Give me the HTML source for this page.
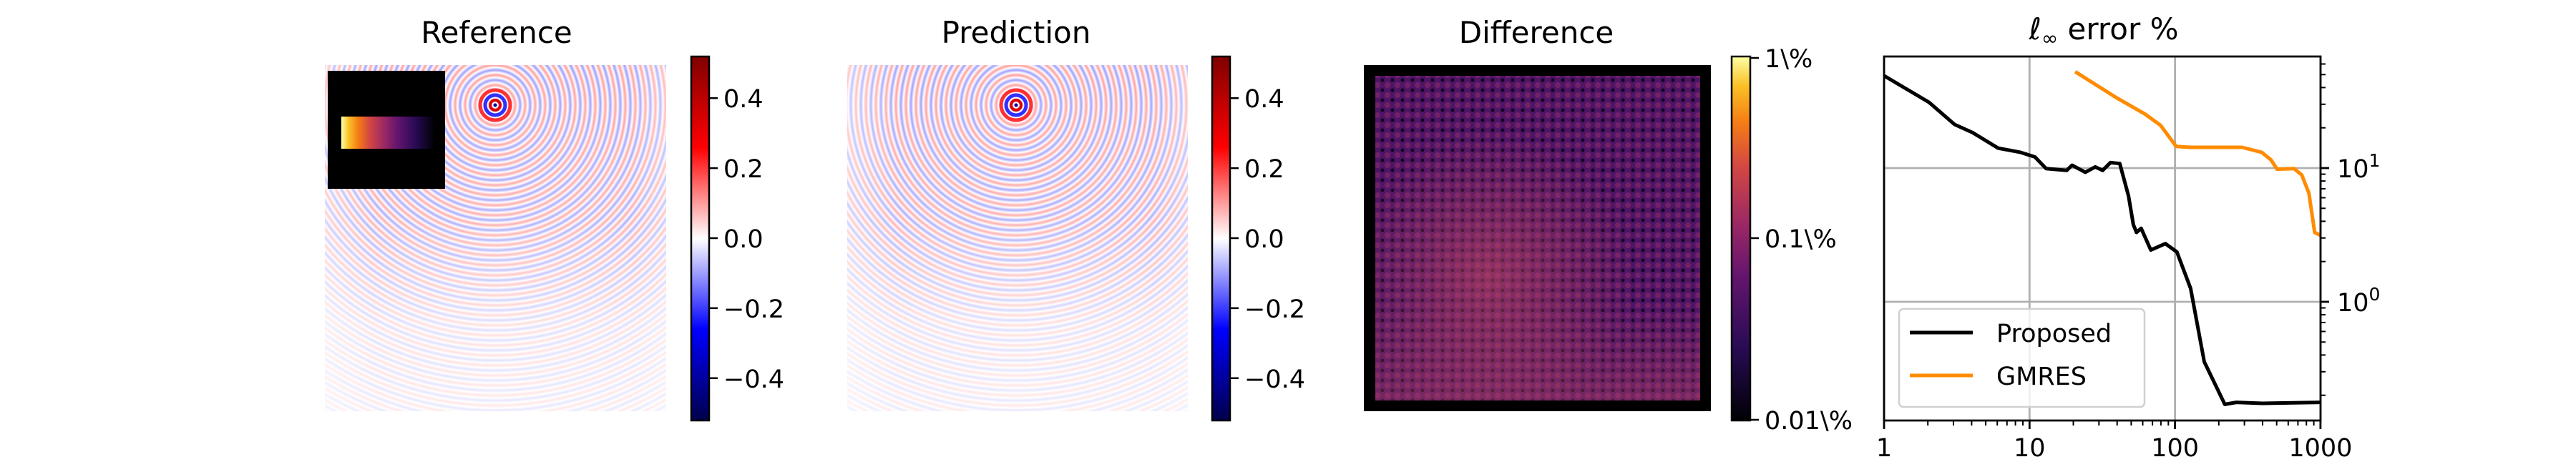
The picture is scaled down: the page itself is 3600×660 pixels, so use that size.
<!DOCTYPE html>
<html><head><meta charset="utf-8"><style>
html,body{margin:0;padding:0;background:#fff;width:3600px;height:660px;overflow:hidden}
svg{display:block;font-family:"DejaVu Sans","Liberation Sans",sans-serif}
</style></head><body>
<svg id="fig" width="3600" height="660" viewBox="0 0 3600 660">
<defs>
<linearGradient id="seis" x1="0" y1="1" x2="0" y2="0">
<stop offset="0" stop-color="#00004c"/><stop offset="0.25" stop-color="#0000ff"/>
<stop offset="0.5" stop-color="#ffffff"/><stop offset="0.75" stop-color="#ff0000"/>
<stop offset="1" stop-color="#800000"/></linearGradient>
<linearGradient id="inf" x1="0" y1="1" x2="0" y2="0">
<stop offset="0" stop-color="#000004"/><stop offset="0.2" stop-color="#280b54"/>
<stop offset="0.4" stop-color="#65156e"/><stop offset="0.55" stop-color="#9f2a63"/>
<stop offset="0.7" stop-color="#d44842"/><stop offset="0.82" stop-color="#f57d15"/>
<stop offset="0.92" stop-color="#fac127"/><stop offset="1" stop-color="#fcffa4"/></linearGradient>
<linearGradient id="infh" x1="1" y1="0" x2="0" y2="0">
<stop offset="0" stop-color="#000004"/><stop offset="0.2" stop-color="#280b54"/>
<stop offset="0.4" stop-color="#65156e"/><stop offset="0.55" stop-color="#9f2a63"/>
<stop offset="0.7" stop-color="#d44842"/><stop offset="0.82" stop-color="#f57d15"/>
<stop offset="0.92" stop-color="#fac127"/><stop offset="1" stop-color="#fcffa4"/></linearGradient>
<radialGradient id="ringsA" gradientUnits="userSpaceOnUse" cx="692" cy="147" r="14" spreadMethod="repeat">
<stop offset="0" stop-color="#ff6a6a"/><stop offset="0.25" stop-color="#ffffff"/>
<stop offset="0.5" stop-color="#6a6aff"/><stop offset="0.75" stop-color="#ffffff"/><stop offset="1" stop-color="#ff6a6a"/></radialGradient>
<radialGradient id="ringsB" gradientUnits="userSpaceOnUse" cx="1420" cy="147" r="14" spreadMethod="repeat">
<stop offset="0" stop-color="#ff6a6a"/><stop offset="0.25" stop-color="#ffffff"/>
<stop offset="0.5" stop-color="#6a6aff"/><stop offset="0.75" stop-color="#ffffff"/><stop offset="1" stop-color="#ff6a6a"/></radialGradient>
<linearGradient id="fade" x1="0" y1="0" x2="0" y2="1">
<stop offset="0" stop-color="#fff" stop-opacity="0.35"/><stop offset="0.45" stop-color="#fff" stop-opacity="0.45"/>
<stop offset="0.75" stop-color="#fff" stop-opacity="0.78"/><stop offset="1" stop-color="#fff" stop-opacity="0.85"/></linearGradient>
<linearGradient id="fadeL" x1="0" y1="0" x2="1" y2="0">
<stop offset="0" stop-color="#fff" stop-opacity="0.4"/><stop offset="0.15" stop-color="#fff" stop-opacity="0"/>
<stop offset="0.9" stop-color="#fff" stop-opacity="0"/><stop offset="1" stop-color="#fff" stop-opacity="0.3"/></linearGradient>
<radialGradient id="diffHot" cx="0.35" cy="0.62" r="0.45">
<stop offset="0" stop-color="#d05060" stop-opacity="0.5"/><stop offset="1" stop-color="#d05060" stop-opacity="0"/></radialGradient>
<linearGradient id="diffBot" x1="0" y1="0" x2="0" y2="1">
<stop offset="0" stop-color="#c04a60" stop-opacity="0"/><stop offset="0.7" stop-color="#c04a60" stop-opacity="0"/>
<stop offset="1" stop-color="#c04a60" stop-opacity="0.35"/></linearGradient>
<pattern id="noise" width="14" height="14" patternUnits="userSpaceOnUse">
<rect width="14" height="14" fill="#4e1466"/><circle cx="7" cy="7" r="4" fill="#7c2468" opacity="0.8"/>
<circle cx="0" cy="0" r="2.5" fill="#12041f"/><circle cx="14" cy="14" r="2.5" fill="#12041f"/>
<circle cx="0" cy="14" r="2.5" fill="#12041f"/><circle cx="14" cy="0" r="2.5" fill="#12041f"/></pattern>
</defs>

<!-- Reference panel -->
<text x="694" y="60" font-size="42" text-anchor="middle">Reference</text>
<g>
<rect x="454" y="91" width="477" height="484" fill="url(#ringsA)"/>
<rect x="454" y="91" width="477" height="484" fill="url(#fade)"/>
<rect x="454" y="91" width="477" height="484" fill="url(#fadeL)"/>
<circle cx="692" cy="147" r="21" fill="none" stroke="#ff3030" stroke-width="5"/>
<circle cx="692" cy="147" r="14" fill="none" stroke="#3030ff" stroke-width="5"/>
<circle cx="692" cy="147" r="7" fill="none" stroke="#e00000" stroke-width="4"/>
<circle cx="692" cy="147" r="2.5" fill="#0000a0"/>
</g>
<g>
<rect x="458" y="99" width="164" height="165" fill="#000"/>
<rect x="477" y="163" width="130" height="45" fill="url(#infh)"/>
</g>
<g>
<rect x="966" y="79" width="25" height="509" fill="url(#seis)" stroke="#000" stroke-width="2.5"/>
</g>
<g id="cb1ticks"></g>

<!-- Prediction panel -->
<text x="1420" y="60" font-size="42" text-anchor="middle">Prediction</text>
<g>
<rect x="1184" y="91" width="476" height="484" fill="url(#ringsB)"/>
<rect x="1184" y="91" width="476" height="484" fill="url(#fade)"/>
<rect x="1184" y="91" width="476" height="484" fill="url(#fadeL)"/>
<circle cx="1420" cy="147" r="21" fill="none" stroke="#ff3030" stroke-width="5"/>
<circle cx="1420" cy="147" r="14" fill="none" stroke="#3030ff" stroke-width="5"/>
<circle cx="1420" cy="147" r="7" fill="none" stroke="#e00000" stroke-width="4"/>
<circle cx="1420" cy="147" r="2.5" fill="#0000a0"/>
</g>
<g>
<rect x="1694" y="79" width="25" height="509" fill="url(#seis)" stroke="#000" stroke-width="2.5"/>
</g>
<g id="cb2ticks"></g>

<!-- Difference panel -->
<text x="2147" y="60" font-size="42" text-anchor="middle">Difference</text>
<g>
<rect x="1906" y="91" width="485" height="484" fill="#000"/>
<rect x="1922" y="106" width="454" height="454" fill="url(#noise)"/>
<rect x="1922" y="106" width="454" height="454" fill="url(#diffHot)"/>
<rect x="1922" y="106" width="454" height="454" fill="url(#diffBot)"/>
</g>
<g>
<rect x="2420" y="79" width="26" height="509" fill="url(#inf)" stroke="#000" stroke-width="2.5"/>
</g>
<g>
<line x1="2446" y1="81" x2="2458" y2="81" stroke="#000" stroke-width="2.5"/>
<line x1="2446" y1="333" x2="2458" y2="333" stroke="#000" stroke-width="2.5"/>
<line x1="2446" y1="587" x2="2458" y2="587" stroke="#000" stroke-width="2.5"/>
<text x="2466" y="94" font-size="35">1\%</text>
<text x="2466" y="346" font-size="35">0.1\%</text>
<text x="2466" y="600" font-size="35">0.01\%</text>
</g>

<!-- Error plot -->
<text x="2940" y="55" font-size="42" text-anchor="middle">ℓ<tspan font-size="28" dy="8">∞</tspan><tspan dy="-8"> error %</tspan></text>
<g id="errplot"></g>
</svg>
<script>
const cbTicks = [0.4, 0.2, 0.0, -0.2, -0.4];
const cbLabels = ["0.4", "0.2", "0.0", "\u22120.2", "\u22120.4"];
const propX = [1, 2.04, 3.05, 4.07, 6.08, 8.7, 10.9, 13, 18, 19.6, 24.2, 28.3, 31.8, 36, 41.7, 47.9, 51.7, 54.4, 58.5, 68.2, 85.9, 103, 128, 159, 220, 264, 398, 1000];
const propY = [49, 31, 21.2, 18.4, 14.1, 13.1, 12.1, 9.9, 9.6, 10.5, 9.3, 10.2, 9.6, 11, 10.8, 6.2, 3.77, 3.3, 3.54, 2.44, 2.72, 2.36, 1.26, 0.356, 0.171, 0.177, 0.174, 0.177];
const gmX = [20.6, 39.9, 62, 79.5, 102, 128, 289, 395, 457, 503, 658, 743, 832, 912, 1000];
const gmY = [52.5, 33.4, 25.4, 20.9, 14.5, 14.3, 14.3, 13.1, 11.5, 9.8, 9.9, 8.9, 6.5, 3.3, 3.14];
const xTicks = [1, 10, 100, 1000];
const xTickLabels = ["1", "10", "100", "1000"];
const yTicks = [1, 10];

const NS = "http://www.w3.org/2000/svg";
function mk(tag, attrs, parent){const e=document.createElementNS(NS,tag);for(const k in attrs)e.setAttribute(k,attrs[k]);parent.appendChild(e);return e;}

function cbY(v){return 333 - v*(509/1.04);}
["cb1ticks","cb2ticks"].forEach((id,i)=>{
  const g=document.getElementById(id); const x0 = i===0?991:1719;
  cbTicks.forEach((v,j)=>{
    const l=mk("line",{x1:x0,y1:cbY(v),x2:x0+12,y2:cbY(v),stroke:"#000","stroke-width":2.5},g);
    
    
    const t=mk("text",{x:x0+20,y:cbY(v)+13,"font-size":35},g);
    
    
    t.textContent=cbLabels[j];
  });
});

const L=2633,R=3243,T=79,B=588;
function xp(v){return L + Math.log10(v)*203.3;}
function yp(v){return 235 - (Math.log10(v)-1)*187;}
const g=document.getElementById("errplot");
xTicks.forEach(v=>{const l=mk("line",{x1:xp(v),y1:T,x2:xp(v),y2:B,stroke:"#b0b0b0","stroke-width":2.8},g);
  
  });
yTicks.forEach(v=>{const l=mk("line",{x1:L,y1:yp(v),x2:R,y2:yp(v),stroke:"#b0b0b0","stroke-width":2.8},g);
  
  });
function series(xs,ys,color,name){
  const d=xs.map((x,i)=>(i?"L":"M")+xp(x).toFixed(1)+","+yp(ys[i]).toFixed(1)).join(" ");
  const p=mk("path",{d:d,fill:"none",stroke:color,"stroke-width":5,"stroke-linejoin":"round"},g);
  
  
}
series(propX,propY,"#000","proposed-line");
series(gmX,gmY,"#ff8c00","gmres-line");
const fr=mk("rect",{x:L,y:T,width:R-L,height:B-T,fill:"none",stroke:"#000","stroke-width":2.8},g);


for(let dec=1;dec<=1000;dec*=10){
  for(let m=1;m<10;m++){const v=dec*m; if(v>1000)break;
    const major=m===1; const x=xp(v);
    mk("line",{x1:x,y1:B,x2:x,y2:B+(major?12:7),stroke:"#000","stroke-width":major?2.8:2},g);}
}
xTicks.forEach((v,i)=>{const t=mk("text",{x:xp(v),y:B+50,"font-size":35,"text-anchor":"middle"},g);
  
  
  t.textContent=xTickLabels[i];});
for(let dec=0.1;dec<=10;dec*=10){
  for(let m=1;m<10;m++){const v=dec*m; const y=yp(v); if(y<T||y>B)continue;
    const major=m===1; mk("line",{x1:R,y1:y,x2:R+(major?12:7),y2:y,stroke:"#000","stroke-width":major?2.8:2},g);}
}
yTicks.forEach(v=>{const t=mk("text",{x:R+23,y:yp(v)+13,"font-size":35},g);
  
  
  t.textContent="10";
  const s=mk("tspan",{"font-size":25,dy:-15},t); s.textContent=String(Math.round(Math.log10(v)));});
const lg=mk("g",{},g);


mk("rect",{x:2654,y:432,width:343,height:137,rx:6,fill:"#fff","fill-opacity":0.8,stroke:"#d0d0d0","stroke-width":2.5},lg);
mk("line",{x1:2669,y1:465,x2:2757,y2:465,stroke:"#000","stroke-width":5},lg);
mk("line",{x1:2669,y1:525,x2:2757,y2:525,stroke:"#ff8c00","stroke-width":5},lg);
const t1=mk("text",{x:2790,y:478,"font-size":35},lg); t1.textContent="Proposed";


const t2=mk("text",{x:2790,y:538,"font-size":35},lg); t2.textContent="GMRES";


</script>
</body></html>
